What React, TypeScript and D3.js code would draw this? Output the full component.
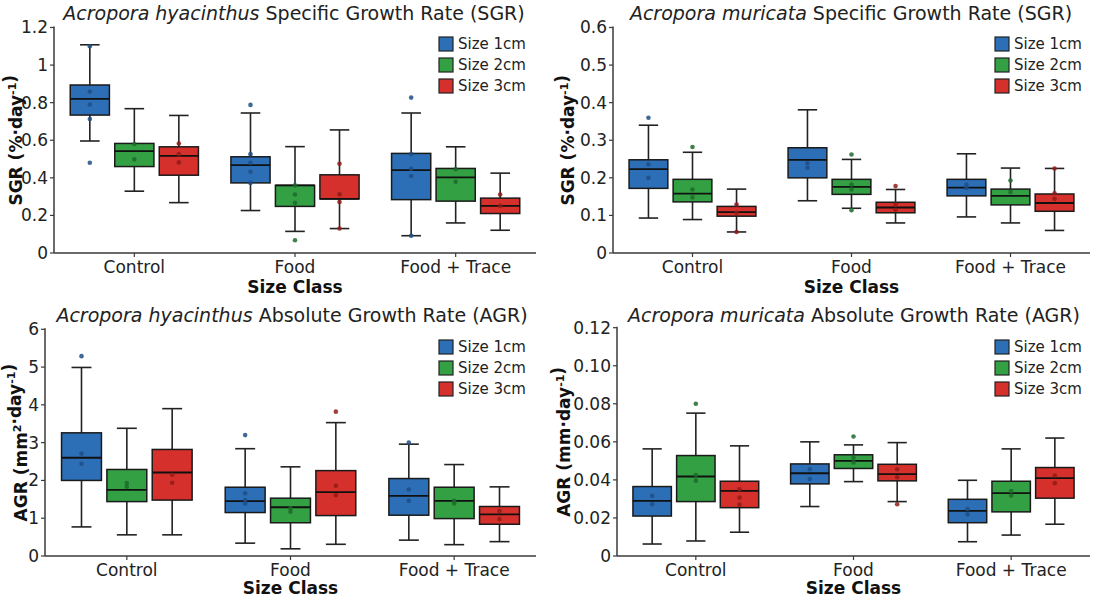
import * as d3 from 'd3'

const categories = ['Control', 'Food', 'Food + Trace']
const sizes = ['Size 1cm', 'Size 2cm', 'Size 3cm']
const sizeColors = ['#2c6fb7', '#34a044', '#d5302b']
const dotColors = ['#1e4f86', '#1d6b2a', '#8f1c19']

// each box: [low whisker, Q1, median, Q3, high whisker]
// order: Control 1/2/3cm, Food 1/2/3cm, Food + Trace 1/2/3cm
const hyaSgrBoxes = [
  [0.596, 0.734, 0.82, 0.894, 1.108],
  [0.329, 0.46, 0.542, 0.583, 0.768],
  [0.268, 0.414, 0.517, 0.565, 0.732],
  [0.226, 0.373, 0.468, 0.512, 0.745],
  [0.115, 0.248, 0.36, 0.36, 0.566],
  [0.13, 0.288, 0.288, 0.416, 0.655],
  [0.092, 0.284, 0.441, 0.53, 0.745],
  [0.16, 0.276, 0.402, 0.45, 0.565],
  [0.121, 0.21, 0.251, 0.292, 0.425],
]
const hyaSgrDots = [
  [0.48, 0.859, 0.79, 0.713, 1.1],
  [0.58, 0.498],
  [0.583, 0.526, 0.482],
  [0.788, 0.526, 0.48, 0.432, 0.373],
  [0.068, 0.36, 0.311, 0.267],
  [0.475, 0.312, 0.271, 0.13],
  [0.827, 0.526, 0.448, 0.41, 0.092],
  [0.446, 0.379],
  [0.311, 0.251],
]

const murSgrBoxes = [
  [0.093, 0.172, 0.223, 0.248, 0.34],
  [0.089, 0.136, 0.158, 0.196, 0.268],
  [0.056, 0.098, 0.109, 0.124, 0.17],
  [0.139, 0.2, 0.248, 0.28, 0.381],
  [0.119, 0.156, 0.176, 0.196, 0.249],
  [0.08, 0.107, 0.121, 0.135, 0.169],
  [0.096, 0.152, 0.174, 0.196, 0.264],
  [0.08, 0.128, 0.152, 0.17, 0.226],
  [0.06, 0.111, 0.133, 0.157, 0.225],
]
const murSgrDots = [
  [0.36, 0.236, 0.2],
  [0.282, 0.169, 0.148],
  [0.129, 0.107, 0.056],
  [0.239, 0.227],
  [0.262, 0.182, 0.169, 0.114],
  [0.178, 0.129, 0.115],
  [0.182, 0.173],
  [0.193, 0.162],
  [0.159, 0.144, 0.225],
]

const hyaAgrBoxes = [
  [0.77, 2.0, 2.6, 3.26, 4.99],
  [0.56, 1.44, 1.75, 2.29, 3.38],
  [0.56, 1.48, 2.21, 2.82, 3.9],
  [0.34, 1.15, 1.45, 1.82, 2.84],
  [0.19, 0.88, 1.29, 1.53, 2.36],
  [0.31, 1.07, 1.69, 2.26, 3.53],
  [0.42, 1.08, 1.59, 2.05, 2.96],
  [0.3, 0.99, 1.46, 1.82, 2.42],
  [0.38, 0.84, 1.1, 1.31, 1.83],
]
const hyaAgrDots = [
  [5.29, 2.71, 2.44],
  [1.93, 1.83],
  [2.15, 1.94],
  [3.2, 1.66, 1.48, 1.39],
  [1.26, 1.17],
  [3.82, 1.86, 1.61],
  [3.0, 1.76, 1.46],
  [1.46, 1.39],
  [1.19, 0.98],
]

const murAgrBoxes = [
  [0.0063, 0.021, 0.029, 0.0365, 0.0563],
  [0.0079, 0.0286, 0.0418, 0.0528, 0.0751],
  [0.0125, 0.0254, 0.0342, 0.0393, 0.0579],
  [0.026, 0.0379, 0.0435, 0.0484, 0.06],
  [0.0391, 0.046, 0.05, 0.0532, 0.0584],
  [0.0286, 0.0395, 0.043, 0.0482, 0.0596],
  [0.0075, 0.0175, 0.0237, 0.0298, 0.0398],
  [0.011, 0.0232, 0.033, 0.0393, 0.0563],
  [0.0167, 0.0304, 0.0409, 0.0465, 0.062],
]
const murAgrDots = [
  [0.0316, 0.0272],
  [0.08, 0.0426, 0.0396],
  [0.0351, 0.0307, 0.027],
  [0.0456, 0.0405],
  [0.0628, 0.0516, 0.0492],
  [0.0456, 0.0414, 0.0272],
  [0.0247, 0.0219],
  [0.0342, 0.0318],
  [0.0423, 0.0383],
]

const FONT = '"DejaVu Sans", Verdana, sans-serif'

type PanelProps = {
  x0: number
  x1: number
  yTop: number
  yZero: number
  yMax: number
  yTicks: number[]
  fmt: (v: number) => string
  species: string
  metric: string
  yName: string
  unit: 'sgr' | 'agr2' | 'agr'
  boxes: number[][]
  dots: number[][]
  legendX: number
  legendY: number
  titleX: number
  titleY: number
  yLabelX: number
  classY: number
}

function Panel(p: PanelProps) {
  const x = d3.scaleBand().domain(categories).range([p.x0, p.x1])
  const inner = d3.scaleBand().domain(sizes).range([0, x.bandwidth()])
    .paddingInner(0.12).paddingOuter(0.365)
  const y = d3.scaleLinear().domain([0, p.yMax]).range([p.yZero, p.yTop])
  const bw = inner.bandwidth()
  const capW = bw * 0.5
  const yMid = (p.yZero + p.yTop) / 2
  const axisColor = '#3a3a3a'

  const sup = (t: string) => (
    <tspan fontSize={11} dy={-6}>{t}</tspan>
  )
  const down = <tspan dy={6}></tspan>

  return (
    <g fontFamily={FONT}>
      {/* title */}
      <text x={p.titleX} y={p.titleY} textAnchor="middle" fontSize={19} fill="#222">
        <tspan fontStyle="italic">{p.species}</tspan> {p.metric}
      </text>

      {/* boxes */}
      {p.boxes.map((b, i) => {
        const cat = categories[Math.floor(i / 3)]
        const si = i % 3
        const cx = (x(cat) ?? 0) + (inner(sizes[si]) ?? 0) + bw / 2
        const [lo, q1, md, q3, hi] = b
        return (
          <g key={i}>
            <line x1={cx} x2={cx} y1={y(hi)} y2={y(q3)} stroke="#222" strokeWidth={1.6} />
            <line x1={cx} x2={cx} y1={y(q1)} y2={y(lo)} stroke="#222" strokeWidth={1.6} />
            <line x1={cx - capW / 2} x2={cx + capW / 2} y1={y(hi)} y2={y(hi)} stroke="#222" strokeWidth={1.6} />
            <line x1={cx - capW / 2} x2={cx + capW / 2} y1={y(lo)} y2={y(lo)} stroke="#222" strokeWidth={1.6} />
            <rect x={cx - bw / 2} y={y(q3)} width={bw} height={y(q1) - y(q3)}
              fill={sizeColors[si]} stroke="#1a1a1a" strokeWidth={1.5} />
            <line x1={cx - bw / 2} x2={cx + bw / 2} y1={y(md)} y2={y(md)} stroke="#111" strokeWidth={1.8} />
            {p.dots[i].map((v, j) => (
              <circle key={j} cx={cx} cy={y(v)} r={2.3} fill={dotColors[si]} opacity={0.85} />
            ))}
          </g>
        )
      })}

      {/* y axis */}
      <line x1={p.x0} x2={p.x0} y1={p.yTop - 1} y2={p.yZero} stroke={axisColor} strokeWidth={1.5} />
      {p.yTicks.map(t => (
        <g key={t}>
          <line x1={p.x0 - 4} x2={p.x0} y1={y(t)} y2={y(t)} stroke={axisColor} strokeWidth={1.2} />
          <text x={p.x0 - 6} y={y(t)} dy="0.35em" textAnchor="end" fontSize={17} fill="#222">
            {p.fmt(t)}
          </text>
        </g>
      ))}

      {/* x axis */}
      <line x1={p.x0} x2={p.x1} y1={p.yZero} y2={p.yZero} stroke={axisColor} strokeWidth={1.5} />
      {categories.map(c => {
        const cx = (x(c) ?? 0) + x.bandwidth() / 2
        return (
          <g key={c}>
            <line x1={cx} x2={cx} y1={p.yZero} y2={p.yZero + 4} stroke={axisColor} strokeWidth={1.2} />
            <text x={cx} y={p.yZero + 20} textAnchor="middle" fontSize={17} fill="#222">{c}</text>
          </g>
        )
      })}
      <text x={(p.x0 + p.x1) / 2} y={p.classY} textAnchor="middle" fontSize={17}
        fontWeight="bold" fill="#111">Size Class</text>

      {/* y label */}
      <text transform={`translate(${p.yLabelX},${yMid}) rotate(-90)`} textAnchor="middle"
        dy="0.35em" fontSize={17} fontWeight="bold" fill="#111">
        {p.unit === 'sgr' && (<>{p.yName} (%·day{sup('-1')}{down})</>)}
        {p.unit === 'agr2' && (<>{p.yName} (mm{sup('2')}{down}·day{sup('-1')}{down})</>)}
        {p.unit === 'agr' && (<>{p.yName} (mm·day{sup('-1')}{down})</>)}
      </text>

      {/* legend */}
      {sizes.map((s, i) => (
        <g key={s} transform={`translate(${p.legendX},${p.legendY + i * 21})`}>
          <rect x={0} y={-7} width={14} height={14} fill={sizeColors[i]} stroke="#222" strokeWidth={1.2} />
          <text x={19} y={0} dy="0.35em" fontSize={15} fill="#222">{s}</text>
        </g>
      ))}
    </g>
  )
}

export default function App() {
  const two = (v: number) => (v === 0 ? '0' : v.toFixed(2))
  const plain = (v: number) => d3.format('~g')(v)
  return (
    <svg width={1094} height={598} style={{ position: 'absolute', left: 0, top: 0, background: '#fff' }}>
      <Panel x0={54} x1={536} yTop={27.5} yZero={253} yMax={1.2}
        yTicks={[0, 0.2, 0.4, 0.6, 0.8, 1, 1.2]} fmt={plain}
        species="Acropora hyacinthus" metric="Specific Growth Rate (SGR)"
        yName="SGR" unit="sgr" boxes={hyaSgrBoxes} dots={hyaSgrDots}
        legendX={439} legendY={44} titleX={294} titleY={20} yLabelX={16} classY={293} />
      <Panel x0={613} x1={1090} yTop={27.5} yZero={253} yMax={0.6}
        yTicks={[0, 0.1, 0.2, 0.3, 0.4, 0.5, 0.6]} fmt={plain}
        species="Acropora muricata" metric="Specific Growth Rate (SGR)"
        yName="SGR" unit="sgr" boxes={murSgrBoxes} dots={murSgrDots}
        legendX={995} legendY={44} titleX={851} titleY={20} yLabelX={568} classY={293} />
      <Panel x0={45} x1={536} yTop={329.3} yZero={556} yMax={6}
        yTicks={[0, 1, 2, 3, 4, 5, 6]} fmt={plain}
        species="Acropora hyacinthus" metric="Absolute Growth Rate (AGR)"
        yName="AGR" unit="agr2" boxes={hyaAgrBoxes} dots={hyaAgrDots}
        legendX={439} legendY={347} titleX={292} titleY={322} yLabelX={21} classY={594} />
      <Panel x0={617} x1={1090} yTop={327.7} yZero={556} yMax={0.12}
        yTicks={[0, 0.02, 0.04, 0.06, 0.08, 0.1, 0.12]} fmt={two}
        species="Acropora muricata" metric="Absolute Growth Rate (AGR)"
        yName="AGR" unit="agr" boxes={murAgrBoxes} dots={murAgrDots}
        legendX={995} legendY={347} titleX={854} titleY={322} yLabelX={564} classY={594} />
    </svg>
  )
}
